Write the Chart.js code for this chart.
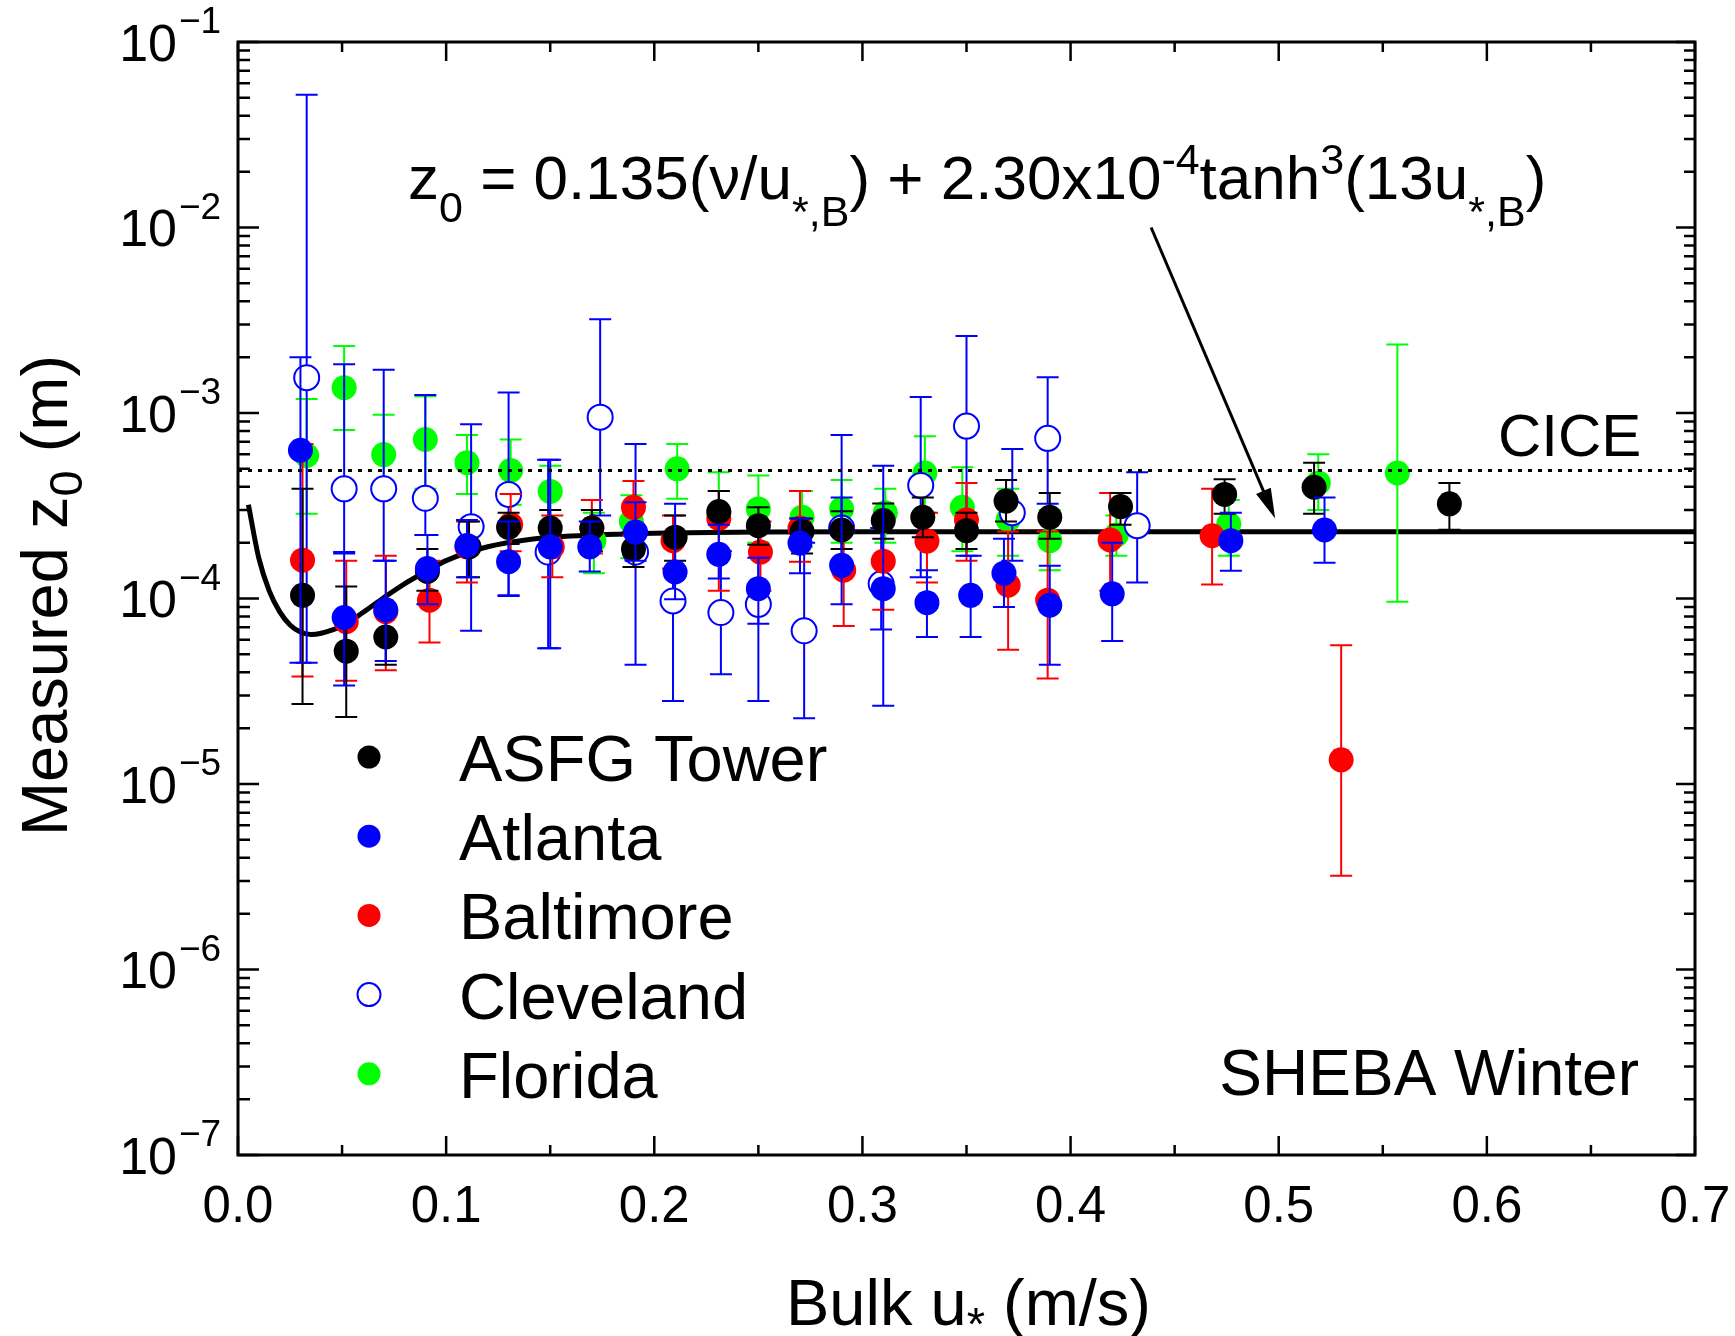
<!DOCTYPE html>
<html>
<head>
<meta charset="utf-8">
<script src="https://cdn.jsdelivr.net/npm/chart.js@4.4.0/dist/chart.umd.min.js"></script>
<style>
  html, body { margin: 0; padding: 0; background: #fff; }
  canvas { display: block; }
</style>
</head>
<body>
<canvas id="chart" width="1735" height="1336"></canvas>
<script>
// ---- data (x = bulk u*, z = measured z0, lo/hi = error bar ends) ----
var asfgX  = [0.031, 0.052, 0.071, 0.091, 0.111, 0.130, 0.150, 0.170, 0.190, 0.210, 0.231, 0.250, 0.271, 0.290, 0.310, 0.329, 0.350, 0.369, 0.390, 0.424, 0.474, 0.517, 0.582];
var asfgZ  = [1.04e-4, 5.2e-5, 6.2e-5, 1.4e-4, 1.9e-4, 2.42e-4, 2.4e-4, 2.4e-4, 1.85e-4, 2.14e-4, 2.94e-4, 2.47e-4, 2.3e-4, 2.34e-4, 2.63e-4, 2.74e-4, 2.32e-4, 3.35e-4, 2.74e-4, 3.13e-4, 3.64e-4, 3.98e-4, 3.24e-4];
var asfgLo = [2.7e-5, 2.3e-5, 4.4e-5, 1.1e-4, 1.3e-4, 1.97e-4, 1.9e-4, 1.8e-4, 1.48e-4, 1.6e-4, 2.3e-4, 1.95e-4, 1.75e-4, 1.85e-4, 2.1e-4, 2.14e-4, 1.85e-4, 2.6e-4, 2.1e-4, 2.5e-4, 2.86e-4, 2.86e-4, 2.35e-4];
var asfgHi = [3.9e-4, 1.16e-4, 8.8e-5, 1.85e-4, 2.6e-4, 2.9e-4, 3.0e-4, 3.0e-4, 2.3e-4, 2.8e-4, 3.8e-4, 3.1e-4, 2.7e-4, 2.95e-4, 3.25e-4, 3.5e-4, 2.9e-4, 4.36e-4, 3.7e-4, 3.7e-4, 4.4e-4, 5.4e-4, 4.2e-4];

var atlX  = [0.030, 0.051, 0.071, 0.091, 0.110, 0.130, 0.150, 0.169, 0.191, 0.210, 0.231, 0.250, 0.270, 0.290, 0.310, 0.331, 0.352, 0.368, 0.390, 0.420, 0.477, 0.522];
var atlZ  = [6.3e-4, 7.9e-5, 8.7e-5, 1.45e-4, 1.93e-4, 1.58e-4, 1.9e-4, 1.9e-4, 2.28e-4, 1.39e-4, 1.73e-4, 1.13e-4, 1.99e-4, 1.51e-4, 1.13e-4, 9.5e-5, 1.04e-4, 1.37e-4, 9.2e-5, 1.06e-4, 2.05e-4, 2.34e-4];
var atlLo = [4.5e-5, 3.4e-5, 4.6e-5, 9.3e-5, 1.3e-4, 1.03e-4, 5.4e-5, 1.4e-4, 1.6e-4, 9.9e-5, 1.28e-4, 7.3e-5, 1.37e-4, 9.3e-5, 2.64e-5, 6.2e-5, 6.2e-5, 9.0e-5, 4.4e-5, 5.9e-5, 1.41e-4, 1.56e-4];
var atlHi = [2.0e-3, 1.78e-4, 1.6e-4, 2.2e-4, 2.65e-4, 2.6e-4, 5.6e-4, 2.6e-4, 3.3e-4, 3.24e-4, 2.5e-4, 1.66e-4, 2.7e-4, 7.6e-4, 5.2e-4, 1.42e-4, 1.7e-4, 2.1e-4, 1.5e-4, 2.0e-4, 2.9e-4, 3.5e-4];

var balX  = [0.031, 0.052, 0.071, 0.092, 0.110, 0.131, 0.151, 0.170, 0.190, 0.209, 0.231, 0.251, 0.270, 0.291, 0.310, 0.331, 0.350, 0.370, 0.389, 0.419, 0.468, 0.530];
var balZ  = [1.61e-4, 7.5e-5, 8.5e-5, 9.8e-5, 1.9e-4, 2.5e-4, 1.9e-4, 2.4e-4, 3.1e-4, 2.05e-4, 2.7e-4, 1.78e-4, 2.4e-4, 1.42e-4, 1.59e-4, 2.04e-4, 2.65e-4, 1.18e-4, 9.8e-5, 2.07e-4, 2.18e-4, 1.35e-5];
var balLo = [3.8e-5, 3.6e-5, 4.1e-5, 5.8e-5, 1.22e-4, 1.8e-4, 1.3e-4, 1.75e-4, 2.2e-4, 1.45e-4, 1.1e-4, 1.1e-4, 1.58e-4, 7.1e-5, 8.7e-5, 1.22e-4, 1.6e-4, 5.3e-5, 3.7e-5, 1.1e-4, 1.19e-4, 3.2e-6];
var balHi = [6.8e-4, 1.6e-4, 1.7e-4, 1.6e-4, 2.6e-4, 3.66e-4, 2.8e-4, 3.4e-4, 4.3e-4, 2.8e-4, 3.8e-4, 2.6e-4, 3.8e-4, 2.4e-4, 2.5e-4, 2.9e-4, 4.2e-4, 2.3e-4, 2.3e-4, 3.7e-4, 3.9e-4, 5.6e-5];

var cleX  = [0.033, 0.051, 0.070, 0.090, 0.112, 0.130, 0.149, 0.174, 0.191, 0.209, 0.232, 0.250, 0.272, 0.290, 0.309, 0.328, 0.350, 0.372, 0.389, 0.432];
var cleZ  = [1.55e-3, 3.9e-4, 3.9e-4, 3.47e-4, 2.44e-4, 3.64e-4, 1.78e-4, 9.5e-4, 1.78e-4, 9.7e-5, 8.4e-5, 9.3e-5, 6.7e-5, 2.4e-4, 1.2e-4, 4.07e-4, 8.5e-4, 2.9e-4, 7.3e-4, 2.47e-4];
var cleLo = [4.5e-5, 1.75e-4, 1.6e-4, 2.2e-4, 6.7e-5, 1.04e-4, 5.4e-5, 2.8e-4, 4.4e-5, 2.8e-5, 3.9e-5, 2.8e-5, 2.26e-5, 1.5e-4, 6.8e-5, 1.3e-4, 1.7e-4, 1.6e-4, 3.24e-4, 1.22e-4];
var cleHi = [5.2e-2, 1.83e-3, 1.71e-3, 1.25e-3, 8.7e-4, 1.29e-3, 5.6e-4, 3.2e-3, 6.8e-4, 2.2e-4, 1.8e-4, 2.3e-4, 2.0e-4, 3.5e-4, 2.4e-4, 1.22e-3, 2.6e-3, 6.4e-4, 1.56e-3, 4.8e-4];

var floX  = [0.033, 0.051, 0.070, 0.090, 0.110, 0.131, 0.150, 0.171, 0.189, 0.211, 0.231, 0.250, 0.271, 0.290, 0.311, 0.330, 0.348, 0.370, 0.390, 0.422, 0.476, 0.519, 0.557];
var floZ  = [5.9e-4, 1.37e-3, 5.97e-4, 7.2e-4, 5.4e-4, 4.9e-4, 3.78e-4, 2.05e-4, 2.6e-4, 5.0e-4, 2.9e-4, 3.04e-4, 2.74e-4, 3.04e-4, 2.9e-4, 4.75e-4, 3.1e-4, 2.66e-4, 2.05e-4, 2.2e-4, 2.52e-4, 4.2e-4, 4.75e-4];
var floLo = [2.86e-4, 8.1e-4, 3.6e-4, 3.9e-4, 3.66e-4, 3.2e-4, 2.6e-4, 1.37e-4, 1.65e-4, 3.45e-4, 1.8e-4, 2.0e-4, 1.9e-4, 2.0e-4, 2.0e-4, 2.9e-4, 1.8e-4, 1.7e-4, 1.42e-4, 1.7e-4, 1.7e-4, 3.0e-4, 9.6e-5];
var floHi = [1.19e-3, 2.3e-3, 9.8e-4, 1.23e-3, 7.6e-4, 7.2e-4, 5.2e-4, 2.9e-4, 3.6e-4, 6.8e-4, 4.8e-4, 4.6e-4, 3.8e-4, 4.36e-4, 3.9e-4, 7.5e-4, 5.1e-4, 3.9e-4, 3.0e-4, 2.8e-4, 3.4e-4, 6.0e-4, 2.34e-3];

// model curve (solid) and CICE level (dotted)
var fitX = [0.005, 0.01, 0.015, 0.02, 0.025, 0.03, 0.035, 0.04, 0.05, 0.06, 0.07, 0.08, 0.09, 0.10, 0.12, 0.14, 0.16, 0.20, 0.25, 0.30, 0.40, 0.50, 0.60, 0.70];
var fitZ = [3.2e-4, 1.65e-4, 1.1e-4, 8.5e-5, 7.2e-5, 6.6e-5, 6.4e-5, 6.5e-5, 7.1e-5, 8.4e-5, 1.01e-4, 1.2e-4, 1.39e-4, 1.6e-4, 1.9e-4, 2.08e-4, 2.17e-4, 2.25e-4, 2.28e-4, 2.29e-4, 2.29e-4, 2.29e-4, 2.29e-4, 2.29e-4];
var ciceX = [0.0, 0.7];
var ciceZ = [4.9e-4, 4.9e-4];

// axes
var xTicks = [0, 0.1, 0.2, 0.3, 0.4, 0.5, 0.6, 0.7];
var xTickLabels = ['0.0', '0.1', '0.2', '0.3', '0.4', '0.5', '0.6', '0.7'];
var xMinorTicks = [0.05, 0.15, 0.25, 0.35, 0.45, 0.55, 0.65];
var yExponents = [-1, -2, -3, -4, -5, -6, -7];
var yTickLabels = ['\u22121', '\u22122', '\u22123', '\u22124', '\u22125', '\u22126', '\u22127'];

var siteNames = ['ASFG Tower', 'Atlanta', 'Baltimore', 'Cleveland', 'Florida'];

var FONT = '"Liberation Sans", Arial, Helvetica, sans-serif';
var MARK = 12.5;

function pts(xs, ys) {
  return xs.map(function(x, i) { return { x: x, y: ys[i] }; });
}

function site(name, xs, zs, lo, hi, color, open, order) {
  return {
    label: name,
    data: pts(xs, zs),
    errLo: lo,
    errHi: hi,
    errColor: color,
    showLine: false,
    pointStyle: 'circle',
    pointRadius: MARK,
    pointHoverRadius: MARK,
    pointBackgroundColor: open ? '#ffffff' : color,
    pointBorderColor: color,
    pointBorderWidth: open ? 2 : 0,
    order: order
  };
}

function richText(ctx, parts, x, y, align) {
  var w = 0;
  parts.forEach(function(p) {
    ctx.font = p.s + 'px ' + FONT;
    p.w = ctx.measureText(p.t).width;
    w += p.w;
  });
  var cx = align === 'center' ? x - w / 2 : (align === 'right' ? x - w : x);
  ctx.textAlign = 'left';
  ctx.textBaseline = 'alphabetic';
  parts.forEach(function(p) {
    ctx.font = p.s + 'px ' + FONT;
    ctx.fillText(p.t, cx, y + (p.dy || 0));
    cx += p.w;
  });
}

// error bars, drawn just under each site's own markers
var errorBars = {
  id: 'errorBars',
  beforeDatasetDraw: function(chart, args) {
    var ds = chart.data.datasets[args.index];
    if (!ds.errLo) return;
    var ctx = chart.ctx, sx = chart.scales.x, sy = chart.scales.y, a = chart.chartArea;
    ctx.save();
    ctx.beginPath();
    ctx.rect(a.left, a.top, a.right - a.left, a.bottom - a.top);
    ctx.clip();
    ctx.strokeStyle = ds.errColor;
    ctx.lineWidth = 2;
    ds.data.forEach(function(p, i) {
      var px = sx.getPixelForValue(p.x);
      var t = sy.getPixelForValue(ds.errHi[i]);
      var b = sy.getPixelForValue(ds.errLo[i]);
      ctx.beginPath();
      ctx.moveTo(px, t); ctx.lineTo(px, b);
      ctx.moveTo(px - 11, t); ctx.lineTo(px + 11, t);
      ctx.moveTo(px - 11, b); ctx.lineTo(px + 11, b);
      ctx.stroke();
    });
    ctx.restore();
  }
};

// frame, inward ticks, tick labels, titles, legend and notes
var decor = {
  id: 'decor',
  afterDraw: function(chart) {
    var ctx = chart.ctx, sx = chart.scales.x, sy = chart.scales.y, a = chart.chartArea;
    ctx.save();
    ctx.strokeStyle = '#000';
    ctx.fillStyle = '#000';

    // ticks
    ctx.lineWidth = 2.5;
    ctx.beginPath();
    xTicks.forEach(function(v) {
      var px = sx.getPixelForValue(v);
      ctx.moveTo(px, a.bottom); ctx.lineTo(px, a.bottom - 19);
      ctx.moveTo(px, a.top); ctx.lineTo(px, a.top + 19);
    });
    xMinorTicks.forEach(function(v) {
      var px = sx.getPixelForValue(v);
      ctx.moveTo(px, a.bottom); ctx.lineTo(px, a.bottom - 10);
      ctx.moveTo(px, a.top); ctx.lineTo(px, a.top + 10);
    });
    yExponents.forEach(function(e) {
      var py = sy.getPixelForValue(Math.pow(10, e));
      ctx.moveTo(a.left, py); ctx.lineTo(a.left + 21, py);
      ctx.moveTo(a.right, py); ctx.lineTo(a.right - 19, py);
      if (e > -7) {
        for (var m = 2; m <= 9; m++) {
          var q = sy.getPixelForValue(m * Math.pow(10, e - 1));
          ctx.moveTo(a.left, q); ctx.lineTo(a.left + 12, q);
          ctx.moveTo(a.right, q); ctx.lineTo(a.right - 11, q);
        }
      }
    });
    ctx.stroke();

    // frame
    ctx.lineWidth = 3;
    ctx.strokeRect(a.left, a.top, a.right - a.left, a.bottom - a.top);

    // x tick labels
    ctx.font = '51px ' + FONT;
    ctx.textAlign = 'center';
    ctx.textBaseline = 'alphabetic';
    xTicks.forEach(function(v, i) {
      ctx.fillText(xTickLabels[i], sx.getPixelForValue(v), a.bottom + 67);
    });

    // y tick labels 10^n
    yExponents.forEach(function(e, i) {
      var py = sy.getPixelForValue(Math.pow(10, e));
      ctx.font = '52px ' + FONT;
      ctx.textAlign = 'right';
      ctx.fillText('10', a.left - 61, py + 18.5);
      ctx.font = '37px ' + FONT;
      ctx.textAlign = 'left';
      ctx.fillText(yTickLabels[i], a.left - 59, py - 9);
    });

    // axis titles
    richText(ctx, [
      { t: 'Bulk u', s: 65 },
      { t: '*', s: 47, dy: 15 },
      { t: ' (m/s)', s: 65 }
    ], (a.left + a.right) / 2 + 2, 1325, 'center');

    ctx.save();
    ctx.translate(67, (a.top + a.bottom) / 2 - 3);
    ctx.rotate(-Math.PI / 2);
    richText(ctx, [
      { t: 'Measured z', s: 65 },
      { t: '0', s: 47, dy: 15 },
      { t: ' (m)', s: 65 }
    ], 0, 0, 'center');
    ctx.restore();

    // formula
    richText(ctx, [
      { t: 'z', s: 62 },
      { t: '0', s: 43, dy: 23 },
      { t: ' = 0.135(\u03bd/u', s: 62 },
      { t: '*,B', s: 43, dy: 27 },
      { t: ') + 2.30x10', s: 62 },
      { t: '-4', s: 43, dy: -25 },
      { t: 'tanh', s: 62 },
      { t: '3', s: 43, dy: -25 },
      { t: '(13u', s: 62 },
      { t: '*,B', s: 43, dy: 27 },
      { t: ')', s: 62 }
    ], a.left + 170, a.top + 157, 'left');

    // arrow from formula down to the curve
    var x0 = sx.getPixelForValue(0.4387), y0 = sy.getPixelForValue(1.0e-2);
    var x1 = sx.getPixelForValue(0.4983), y1 = sy.getPixelForValue(2.7e-4);
    var ang = Math.atan2(y1 - y0, x1 - x0);
    ctx.lineWidth = 3;
    ctx.beginPath();
    ctx.moveTo(x0, y0);
    ctx.lineTo(x1 - 26 * Math.cos(ang), y1 - 26 * Math.sin(ang));
    ctx.stroke();
    ctx.beginPath();
    ctx.moveTo(x1, y1);
    ctx.lineTo(x1 - 30 * Math.cos(ang) + 8 * Math.sin(ang), y1 - 30 * Math.sin(ang) - 8 * Math.cos(ang));
    ctx.lineTo(x1 - 30 * Math.cos(ang) - 8 * Math.sin(ang), y1 - 30 * Math.sin(ang) + 8 * Math.cos(ang));
    ctx.closePath();
    ctx.fill();

    // CICE and SHEBA notes
    ctx.font = '60px ' + FONT;
    ctx.textAlign = 'left';
    ctx.fillText('CICE', a.right - 197, sy.getPixelForValue(ciceZ[0]) - 14);
    ctx.font = '64px ' + FONT;
    ctx.textAlign = 'right';
    ctx.fillText('SHEBA Winter', a.right - 56, a.bottom - 60);

    // legend
    var colors = ['#000000', '#0000ff', '#ff0000', '#0000ff', '#00ff00'];
    siteNames.forEach(function(name, i) {
      var ly = a.top + 715 + i * 79.2;
      var lx = a.left + 131;
      ctx.beginPath();
      ctx.arc(lx, ly, 11.5, 0, Math.PI * 2);
      if (i === 3) {
        ctx.fillStyle = '#fff';
        ctx.fill();
        ctx.lineWidth = 2;
        ctx.strokeStyle = colors[i];
        ctx.stroke();
      } else {
        ctx.fillStyle = colors[i];
        ctx.fill();
      }
      ctx.fillStyle = '#000';
      ctx.font = '65px ' + FONT;
      ctx.textAlign = 'left';
      ctx.fillText(name, a.left + 221, ly + 24);
    });

    ctx.restore();
  }
};

var datasets = [
  {
    label: 'CICE',
    data: pts(ciceX, ciceZ),
    showLine: true,
    borderColor: '#000',
    borderWidth: 3,
    borderDash: [4, 6],
    pointRadius: 0,
    order: 0
  },
  site(siteNames[1], atlX, atlZ, atlLo, atlHi, '#0000ff', false, 1),
  site(siteNames[0], asfgX, asfgZ, asfgLo, asfgHi, '#000000', false, 2),
  site(siteNames[2], balX, balZ, balLo, balHi, '#ff0000', false, 3),
  site(siteNames[3], cleX, cleZ, cleLo, cleHi, '#0000ff', true, 4),
  site(siteNames[4], floX, floZ, floLo, floHi, '#00ff00', false, 5),
  {
    label: 'fit',
    data: pts(fitX, fitZ),
    showLine: true,
    borderColor: '#000',
    borderWidth: 5,
    cubicInterpolationMode: 'monotone',
    pointRadius: 0,
    order: 6
  }
];

var chart = new Chart(document.getElementById('chart'), {
  type: 'scatter',
  data: { datasets: datasets },
  options: {
    responsive: false,
    devicePixelRatio: 1,
    animation: false,
    events: [],
    layout: { padding: { top: 42, right: 40, left: 0, bottom: 0 } },
    plugins: {
      legend: { display: false },
      tooltip: { enabled: false }
    },
    scales: {
      x: {
        type: 'linear',
        min: 0,
        max: 0.7,
        grid: { display: false },
        border: { display: false },
        ticks: { display: false },
        afterFit: function(s) { s.height = 181; }
      },
      y: {
        type: 'logarithmic',
        min: 1e-7,
        max: 1e-1,
        grid: { display: false },
        border: { display: false },
        ticks: { display: false },
        afterFit: function(s) { s.width = 238; }
      }
    }
  },
  plugins: [errorBars, decor]
});
</script>
</body>
</html>
